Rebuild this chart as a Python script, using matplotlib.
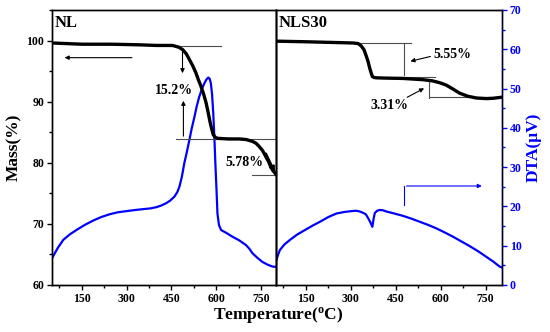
import numpy as np
import matplotlib.pyplot as plt
import matplotlib as ml
from matplotlib.ticker import MultipleLocator

# NL mass loss curve (Mass %)
nl_t = [50, 150, 250, 343, 400, 454, 475, 488, 500, 510, 521, 532, 540, 549, 558, 566, 573, 580, 586, 590, 596, 604, 640, 677, 700, 721, 733, 743, 755, 766, 775, 782, 790, 800]
nl_m = [99.6, 99.4, 99.4, 99.3, 99.2, 99.2, 98.9, 98.5, 97.8, 96.9, 95.9, 94.7, 93.6, 92.5, 91.2, 89.8, 88.2, 86.5, 85.3, 84.6, 84.2, 84.0, 83.9, 83.9, 83.8, 83.5, 83.2, 82.7, 82.0, 81.0, 80.2, 79.4, 78.7, 78.1]
# NL DTA curve (uV)
nl_dt = [50, 70, 88, 110, 132, 160, 188, 215, 243, 270, 299, 330, 354, 380, 399, 415, 432, 446, 460, 470, 477, 485, 493, 502, 510, 518, 527, 535, 543, 552, 560, 567, 573, 578, 582, 586, 590, 594, 597, 601, 604, 609, 616, 635, 654, 676, 699, 710, 721, 738, 754, 771, 788, 800]
nl_d = [6.8, 9.5, 11.5, 12.9, 14.0, 15.3, 16.4, 17.3, 18.0, 18.5, 18.8, 19.1, 19.3, 19.5, 19.8, 20.2, 20.8, 21.5, 22.5, 23.7, 25.1, 27.6, 31.0, 34.0, 36.9, 39.9, 42.8, 45.6, 47.9, 49.9, 51.3, 52.3, 52.8, 52.5, 51.3, 48.5, 43.7, 37.0, 31.0, 24.0, 18.2, 15.3, 14.0, 13.2, 12.3, 11.4, 10.2, 9.3, 8.1, 6.9, 5.9, 5.2, 4.7, 4.6]

# NLS30 mass loss curve
s30_t = [50, 150, 230, 308, 325, 335, 344, 352, 358, 363, 368, 372, 378, 386, 420, 474, 507, 540, 573, 597, 619, 640, 663, 690, 719, 752, 775, 800]
s30_m = [99.9, 99.8, 99.7, 99.6, 99.5, 99.1, 98.5, 97.4, 96.5, 95.5, 94.7, 94.1, 93.95, 93.9, 93.85, 93.8, 93.7, 93.6, 93.4, 93.1, 92.7, 92.1, 91.4, 90.9, 90.6, 90.5, 90.55, 90.7]
# NLS30 DTA curve
s30_dt = [50, 56, 63, 78, 97, 120, 147, 172, 197, 225, 252, 280, 302, 318, 330, 340, 350, 358, 365, 372, 376, 380, 388, 397, 408, 419, 445, 474, 502, 530, 558, 586, 613, 641, 669, 697, 725, 752, 775, 797, 803]
s30_d = [5.9, 7.5, 8.9, 10.3, 11.5, 12.8, 14.0, 15.1, 16.1, 17.3, 18.2, 18.6, 18.8, 18.9, 18.7, 18.4, 18.0, 17.0, 16.0, 14.8, 16.8, 18.3, 18.9, 19.1, 19.0, 18.7, 18.2, 17.6, 16.9, 16.1, 15.3, 14.4, 13.4, 12.3, 11.1, 9.9, 8.6, 7.2, 6.0, 4.7, 4.5]

ml.rc('font', family='Liberation Serif', weight='bold', size=8.5)
ml.rc('axes', linewidth=1.0, labelweight='bold')

fig = plt.figure(figsize=(5.5, 3.32), dpi=100)
ax1 = fig.add_axes([0.0945, 0.1416, 0.4073, 0.8283])
ax2 = fig.add_axes([0.5018, 0.1416, 0.4109, 0.8283])
ax1b = ax1.twinx()
ax2b = ax2.twinx()

for a in (ax1, ax2):
    a.set_xlim(50, 805)
    a.set_ylim(60, 105)
    a.set_xticks([150, 300, 450, 600, 750])
    a.xaxis.set_minor_locator(MultipleLocator(75))
    a.tick_params(which='major', length=3.5, width=1, pad=2)
    a.tick_params(which='minor', length=2, width=1)
ax1.set_yticks([60, 70, 80, 90, 100])
ax1.yaxis.set_minor_locator(MultipleLocator(5))
ax2.set_yticks([])
ax2.tick_params(axis='y', which='both', left=False)
ax1.set_xlim(50, 800)

for a in (ax1b, ax2b):
    a.set_ylim(0, 70)
ax1b.set_yticks([])
ax1b.tick_params(axis='y', which='both', right=False)
ax2b.set_yticks(range(0, 71, 10))
ax2b.yaxis.set_minor_locator(MultipleLocator(5))
ax2b.tick_params(axis='y', which='major', colors='blue', length=3.5, width=1, pad=2)
ax2b.tick_params(axis='y', which='minor', colors='blue', length=2, width=1)
ax2b.spines['right'].set_color('blue')
ax2b.set_ylabel('DTA(\u03bcV)', color='blue', fontsize=12.5, labelpad=3)

for a in (ax1, ax2, ax2b):
    for lab in a.get_xticklabels() + a.get_yticklabels():
        lab.set_fontweight('bold')

ax1b.plot(nl_dt, nl_d, color='blue', lw=1.6)
ax1.plot(nl_t, nl_m, color='black', lw=2.4, zorder=5)
ax2b.plot(s30_dt, s30_d, color='blue', lw=1.6)
ax2.plot(s30_t, s30_m, color='black', lw=2.4, zorder=5)
ax1.set_zorder(ax1b.get_zorder() + 1)
ax1.patch.set_visible(False)
ax2.set_zorder(ax2b.get_zorder() + 1)
ax2.patch.set_visible(False)

gl = '0.3'
# NL annotations
ax1.plot([443, 617], [99.1, 99.1], color=gl, lw=0.8)
ax1.plot([466, 800], [83.9, 83.9], color=gl, lw=0.8)
ax1.plot([720, 800], [78.0, 78.0], color=gl, lw=0.8)
arr = dict(arrowstyle='-|>', color='black', lw=0.8, mutation_scale=6)
ax1.annotate('', xy=(487, 94.2), xytext=(487, 99.1), arrowprops=arr)
ax1.annotate('', xy=(490, 90.6), xytext=(490, 83.9), arrowprops=arr)
ax1.annotate('', xy=(83, 97.2), xytext=(327, 97.2), arrowprops=arr)
ax1.annotate('', xy=(800, 78.0), xytext=(762, 81.9),
             arrowprops=dict(arrowstyle='-|>', color='black', lw=1.8, mutation_scale=7))
ax1.text(460, 91.8, '15.2%', ha='center', va='center', fontsize=10)
ax1.text(693, 80.1, '5.78%', ha='center', va='center', fontsize=10)
ax1.text(58, 102.8, 'NL', ha='left', va='center', fontsize=12)

# NLS30 annotations
ax2.plot([330, 502], [99.6, 99.6], color=gl, lw=0.8)
ax2.plot([478, 478], [99.6, 94.3], color=gl, lw=0.8)
ax2.plot([474, 580], [94.0, 94.0], color=gl, lw=0.8)
ax2.plot([561, 561], [93.3, 90.6], color=gl, lw=0.8)
ax2.plot([561, 800], [90.7, 90.7], color=gl, lw=0.8)
ax2.annotate('', xy=(490, 96.5), xytext=(575, 97.5), arrowprops=arr)
ax2.text(640, 97.7, '5.55%', ha='center', va='center', fontsize=10)
ax2.annotate('', xy=(553, 92.4), xytext=(480, 90.5), arrowprops=arr)
ax2.text(430, 89.3, '3.31%', ha='center', va='center', fontsize=10)
ax2.text(58, 102.8, 'NLS30', ha='left', va='center', fontsize=12)
ax2b.plot([477, 477], [20.4, 25.2], color='blue', lw=0.8)
ax2b.annotate('', xy=(747, 25.2), xytext=(477, 25.2),
              arrowprops=dict(arrowstyle='-|>', color='blue', lw=0.8, mutation_scale=6))

ax1.set_ylabel('Mass(%)', fontsize=12.5, labelpad=3)
fig.text(0.505, 0.02, 'Temperature($\\mathregular{^o}$C)', ha='center', va='bottom',
         fontsize=12.5, fontweight='bold')

plt.savefig('out.png', dpi=100)
